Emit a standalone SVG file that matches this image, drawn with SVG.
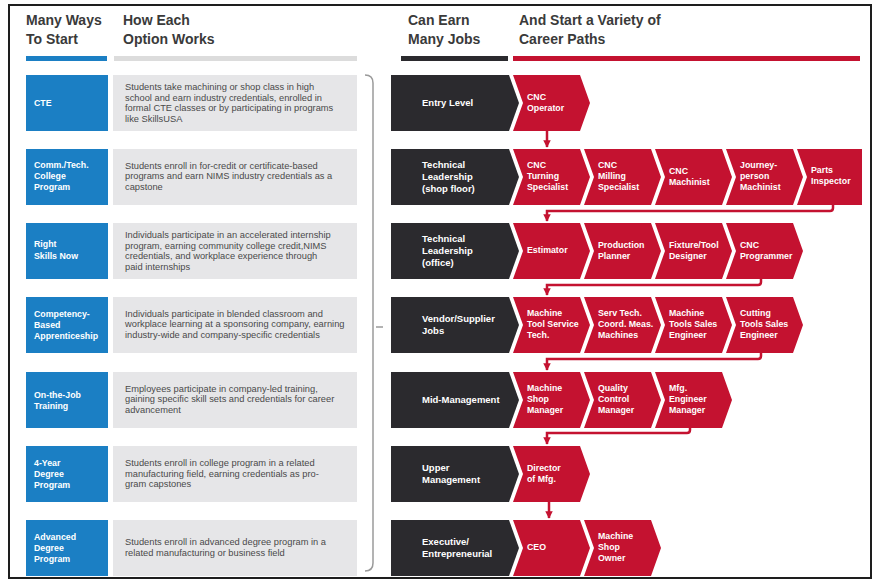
<svg xmlns="http://www.w3.org/2000/svg" xmlns:xlink="http://www.w3.org/1999/xlink" width="874" height="580" viewBox="0 0 874 580">
  <style>
    .hdr { font-family: "Liberation Sans", Arial, sans-serif; font-size: 14px; font-weight: bold; fill: #3a3a3a; }
    .blue { fill: #1b7fc4; }
    .grey { fill: #e6e6e8; }
    .dark { fill: #2b2a2e; }
    .red { fill: #c41230; }
    .lbl { font-family: "Liberation Sans", Arial, sans-serif; font-size: 8.8px; font-weight: bold; fill: #ffffff; }
    .desc { font-family: "Liberation Sans", Arial, sans-serif; font-size: 9.3px; fill: #4a4a4a; }
    .job { font-family: "Liberation Sans", Arial, sans-serif; font-size: 9.5px; font-weight: bold; fill: #ffffff; }
    .conn { fill: none; stroke: #c41230; stroke-width: 2.5; marker-end: url(#arrow); }
  </style>
  <defs>
    <marker id="arrow" viewBox="0 0 10 10" refX="9" refY="5" markerWidth="3" markerHeight="3" orient="auto">
      <path d="M0,0 L10,5 L0,10 z" fill="#c41230"/>
    </marker>
    <!-- career step: notched tail, pointed head -->
    <path id="chev" d="M0 0 H67 L77 28 L67 56 H0 L10 28 Z"/>
    <!-- job level block with pointed right side -->
    <path id="lvl" d="M0 0 H118 L128 28 L118 56 H0 Z"/>
    <!-- start option pair -->
    <g id="opt">
      <rect x="26" y="0" width="82" height="56" class="blue"/>
      <rect x="113" y="0" width="244" height="56" class="grey"/>
    </g>
  </defs>

  <rect x="0" y="0" width="874" height="580" fill="#ffffff"/>
  <rect x="9" y="5" width="862" height="573" fill="none" stroke="#1e1e1e" stroke-width="2"/>

  <!-- column headers -->
  <g id="headers">
    <text class="hdr" x="26" y="25">Many Ways</text>
    <text class="hdr" x="26" y="44">To Start</text>
    <text class="hdr" x="123" y="25">How Each</text>
    <text class="hdr" x="123" y="44">Option Works</text>
    <text class="hdr" x="408" y="25">Can Earn</text>
    <text class="hdr" x="408" y="44">Many Jobs</text>
    <text class="hdr" x="519" y="25">And Start a Variety of</text>
    <text class="hdr" x="519" y="44">Career Paths</text>
    <rect x="26" y="56" width="81" height="5" fill="#1b7fc4"/>
    <rect x="114" y="56" width="243" height="5" fill="#dcdcdc"/>
    <rect x="401" y="56" width="107" height="5" fill="#2b2a2e"/>
    <rect x="513" y="56" width="347" height="5" fill="#c41230"/>
  </g>

  <!-- ways to start -->
  <g id="opt-cte">
    <use xlink:href="#opt" y="75"/>
    <text class="lbl" x="34" y="106">CTE</text>
    <text class="desc"><tspan x="125" y="90">Students take machining or shop class in high</tspan><tspan x="125" y="100.5">school and earn industry credentials, enrolled in</tspan><tspan x="125" y="111">formal CTE classes or by participating in programs</tspan><tspan x="125" y="121.5">like SkillsUSA</tspan></text>
  </g>
  <g id="opt-college">
    <use xlink:href="#opt" y="149"/>
    <text class="lbl"><tspan x="34" y="168">Comm./Tech.</tspan><tspan x="34" y="179">College</tspan><tspan x="34" y="190">Program</tspan></text>
    <text class="desc"><tspan x="125" y="168.5">Students enroll in for-credit or certificate-based</tspan><tspan x="125" y="179">programs and earn NIMS industry credentials as a</tspan><tspan x="125" y="189.5">capstone</tspan></text>
  </g>
  <g id="opt-rightskills">
    <use xlink:href="#opt" y="223"/>
    <text class="lbl"><tspan x="34" y="246.5">Right</tspan><tspan x="34" y="259">Skills Now</tspan></text>
    <text class="desc"><tspan x="125" y="238">Individuals participate in an accelerated internship</tspan><tspan x="125" y="248.5">program, earning community college credit,NIMS</tspan><tspan x="125" y="259">credentials, and workplace experience through</tspan><tspan x="125" y="269.5">paid internships</tspan></text>
  </g>
  <g id="opt-apprentice">
    <use xlink:href="#opt" y="297"/>
    <text class="lbl"><tspan x="34" y="317">Competency-</tspan><tspan x="34" y="328">Based</tspan><tspan x="34" y="339">Apprenticeship</tspan></text>
    <text class="desc"><tspan x="125" y="316.5">Individuals participate in blended classroom and</tspan><tspan x="125" y="327">workplace learning at a sponsoring company, earning</tspan><tspan x="125" y="337.5">industry-wide and company-specific credentials</tspan></text>
  </g>
  <g id="opt-ojt">
    <use xlink:href="#opt" y="372"/>
    <text class="lbl"><tspan x="34" y="397.5">On-the-Job</tspan><tspan x="34" y="408.5">Training</tspan></text>
    <text class="desc"><tspan x="125" y="391.5">Employees participate in company-led training,</tspan><tspan x="125" y="402">gaining specific skill sets and credentials for career</tspan><tspan x="125" y="412.5">advancement</tspan></text>
  </g>
  <g id="opt-4year">
    <use xlink:href="#opt" y="446"/>
    <text class="lbl"><tspan x="34" y="466">4-Year</tspan><tspan x="34" y="477">Degree</tspan><tspan x="34" y="488">Program</tspan></text>
    <text class="desc"><tspan x="125" y="466">Students enroll in college program in a related</tspan><tspan x="125" y="476.5">manufacturing field, earning credentials as pro-</tspan><tspan x="125" y="487">gram capstones</tspan></text>
  </g>
  <g id="opt-advanced">
    <use xlink:href="#opt" y="520"/>
    <text class="lbl"><tspan x="34" y="540">Advanced</tspan><tspan x="34" y="551">Degree</tspan><tspan x="34" y="562">Program</tspan></text>
    <text class="desc"><tspan x="125" y="545">Students enroll in advanced degree program in a</tspan><tspan x="125" y="555.5">related manufacturing or business field</tspan></text>
  </g>

  <!-- brace joining the start options to the job levels -->
  <g id="brace" fill="none" stroke="#9a9a9a" stroke-width="1.5">
    <path d="M365 75 Q373 75 373 83 V563 Q373 571 365 571"/>
    <path d="M376 327 H383"/>
  </g>

  <!-- job levels -->
  <g id="lvl-entry">
    <use xlink:href="#lvl" x="391" y="75" class="dark"/>
    <text class="job" x="422" y="106.3">Entry Level</text>
  </g>
  <g id="lvl-shop">
    <use xlink:href="#lvl" x="391" y="149" class="dark"/>
    <text class="job"><tspan x="422" y="168.3">Technical</tspan><tspan x="422" y="180.3">Leadership</tspan><tspan x="422" y="192.3">(shop floor)</tspan></text>
  </g>
  <g id="lvl-office">
    <use xlink:href="#lvl" x="391" y="223" class="dark"/>
    <text class="job"><tspan x="422" y="242.3">Technical</tspan><tspan x="422" y="254.3">Leadership</tspan><tspan x="422" y="266.3">(office)</tspan></text>
  </g>
  <g id="lvl-vendor">
    <use xlink:href="#lvl" x="391" y="297" class="dark"/>
    <text class="job"><tspan x="422" y="322.3">Vendor/Supplier</tspan><tspan x="422" y="334.3">Jobs</tspan></text>
  </g>
  <g id="lvl-mid">
    <use xlink:href="#lvl" x="391" y="372" class="dark"/>
    <text class="job" x="422" y="403.3">Mid-Management</text>
  </g>
  <g id="lvl-upper">
    <use xlink:href="#lvl" x="391" y="446" class="dark"/>
    <text class="job"><tspan x="422" y="471.3">Upper</tspan><tspan x="422" y="483.3">Management</tspan></text>
  </g>
  <g id="lvl-exec">
    <use xlink:href="#lvl" x="391" y="520" class="dark"/>
    <text class="job"><tspan x="422" y="545.3">Executive/</tspan><tspan x="422" y="557.3">Entrepreneurial</tspan></text>
  </g>

  <!-- career steps -->
  <g id="job-cnc-operator">
    <use xlink:href="#chev" x="513" y="75" class="red"/>
    <text class="lbl"><tspan x="527" y="99.6">CNC</tspan><tspan x="527" y="110.6">Operator</tspan></text>
  </g>

  <g id="job-turning">
    <use xlink:href="#chev" x="513" y="149" class="red"/>
    <text class="lbl"><tspan x="527" y="168.1">CNC</tspan><tspan x="527" y="179.1">Turning</tspan><tspan x="527" y="190.1">Specialist</tspan></text>
  </g>
  <g id="job-milling">
    <use xlink:href="#chev" x="584" y="149" class="red"/>
    <text class="lbl"><tspan x="598" y="168.1">CNC</tspan><tspan x="598" y="179.1">Milling</tspan><tspan x="598" y="190.1">Specialist</tspan></text>
  </g>
  <g id="job-machinist">
    <use xlink:href="#chev" x="655" y="149" class="red"/>
    <text class="lbl"><tspan x="669" y="173.6">CNC</tspan><tspan x="669" y="184.6">Machinist</tspan></text>
  </g>
  <g id="job-journey">
    <use xlink:href="#chev" x="726" y="149" class="red"/>
    <text class="lbl"><tspan x="740" y="168.1">Journey-</tspan><tspan x="740" y="179.1">person</tspan><tspan x="740" y="190.1">Machinist</tspan></text>
  </g>
  <g id="job-inspector">
    <path class="red" d="M797 149 H862 V205 H797 L807 177 Z"/>
    <text class="lbl"><tspan x="811" y="172.6">Parts</tspan><tspan x="811" y="183.6">Inspector</tspan></text>
  </g>

  <g id="job-estimator">
    <use xlink:href="#chev" x="513" y="223" class="red"/>
    <text class="lbl" x="527" y="253.1">Estimator</text>
  </g>
  <g id="job-planner">
    <use xlink:href="#chev" x="584" y="223" class="red"/>
    <text class="lbl"><tspan x="598" y="247.6">Production</tspan><tspan x="598" y="258.6">Planner</tspan></text>
  </g>
  <g id="job-designer">
    <use xlink:href="#chev" x="655" y="223" class="red"/>
    <text class="lbl"><tspan x="669" y="247.6">Fixture/Tool</tspan><tspan x="669" y="258.6">Designer</tspan></text>
  </g>
  <g id="job-programmer">
    <use xlink:href="#chev" x="726" y="223" class="red"/>
    <text class="lbl"><tspan x="740" y="247.6">CNC</tspan><tspan x="740" y="258.6">Programmer</tspan></text>
  </g>

  <g id="job-service">
    <use xlink:href="#chev" x="513" y="297" class="red"/>
    <text class="lbl"><tspan x="527" y="316.1">Machine</tspan><tspan x="527" y="327.1">Tool Service</tspan><tspan x="527" y="338.1">Tech.</tspan></text>
  </g>
  <g id="job-cmm">
    <use xlink:href="#chev" x="584" y="297" class="red"/>
    <text class="lbl"><tspan x="598" y="316.1">Serv Tech.</tspan><tspan x="598" y="327.1">Coord. Meas.</tspan><tspan x="598" y="338.1">Machines</tspan></text>
  </g>
  <g id="job-tools-sales">
    <use xlink:href="#chev" x="655" y="297" class="red"/>
    <text class="lbl"><tspan x="669" y="316.1">Machine</tspan><tspan x="669" y="327.1">Tools Sales</tspan><tspan x="669" y="338.1">Engineer</tspan></text>
  </g>
  <g id="job-cutting-sales">
    <use xlink:href="#chev" x="726" y="297" class="red"/>
    <text class="lbl"><tspan x="740" y="316.1">Cutting</tspan><tspan x="740" y="327.1">Tools Sales</tspan><tspan x="740" y="338.1">Engineer</tspan></text>
  </g>

  <g id="job-shop-manager">
    <use xlink:href="#chev" x="513" y="372" class="red"/>
    <text class="lbl"><tspan x="527" y="391.1">Machine</tspan><tspan x="527" y="402.1">Shop</tspan><tspan x="527" y="413.1">Manager</tspan></text>
  </g>
  <g id="job-qc-manager">
    <use xlink:href="#chev" x="584" y="372" class="red"/>
    <text class="lbl"><tspan x="598" y="391.1">Quality</tspan><tspan x="598" y="402.1">Control</tspan><tspan x="598" y="413.1">Manager</tspan></text>
  </g>
  <g id="job-eng-manager">
    <use xlink:href="#chev" x="655" y="372" class="red"/>
    <text class="lbl"><tspan x="669" y="391.1">Mfg.</tspan><tspan x="669" y="402.1">Engineer</tspan><tspan x="669" y="413.1">Manager</tspan></text>
  </g>

  <g id="job-director">
    <use xlink:href="#chev" x="513" y="446" class="red"/>
    <text class="lbl"><tspan x="527" y="470.6">Director</tspan><tspan x="527" y="481.6">of Mfg.</tspan></text>
  </g>

  <g id="job-ceo">
    <use xlink:href="#chev" x="513" y="520" class="red"/>
    <text class="lbl" x="527" y="550.1">CEO</text>
  </g>
  <g id="job-owner">
    <use xlink:href="#chev" x="584" y="520" class="red"/>
    <text class="lbl"><tspan x="598" y="539.1">Machine</tspan><tspan x="598" y="550.1">Shop</tspan><tspan x="598" y="561.1">Owner</tspan></text>
  </g>

  <!-- progression between levels -->
  <g id="connectors">
    <path class="conn" d="M547 131 V147"/>
    <path class="conn" d="M833 205 V208 Q833 211 830 211 H547 V221"/>
    <path class="conn" d="M761 279 V282 Q761 285 758 285 H547 V295"/>
    <path class="conn" d="M761 353 V356 Q761 359 758 359 H547 V370"/>
    <path class="conn" d="M690 428 V430 Q690 433 687 433 H547 V444"/>
    <path class="conn" d="M549 502 V518"/>
  </g>
</svg>
